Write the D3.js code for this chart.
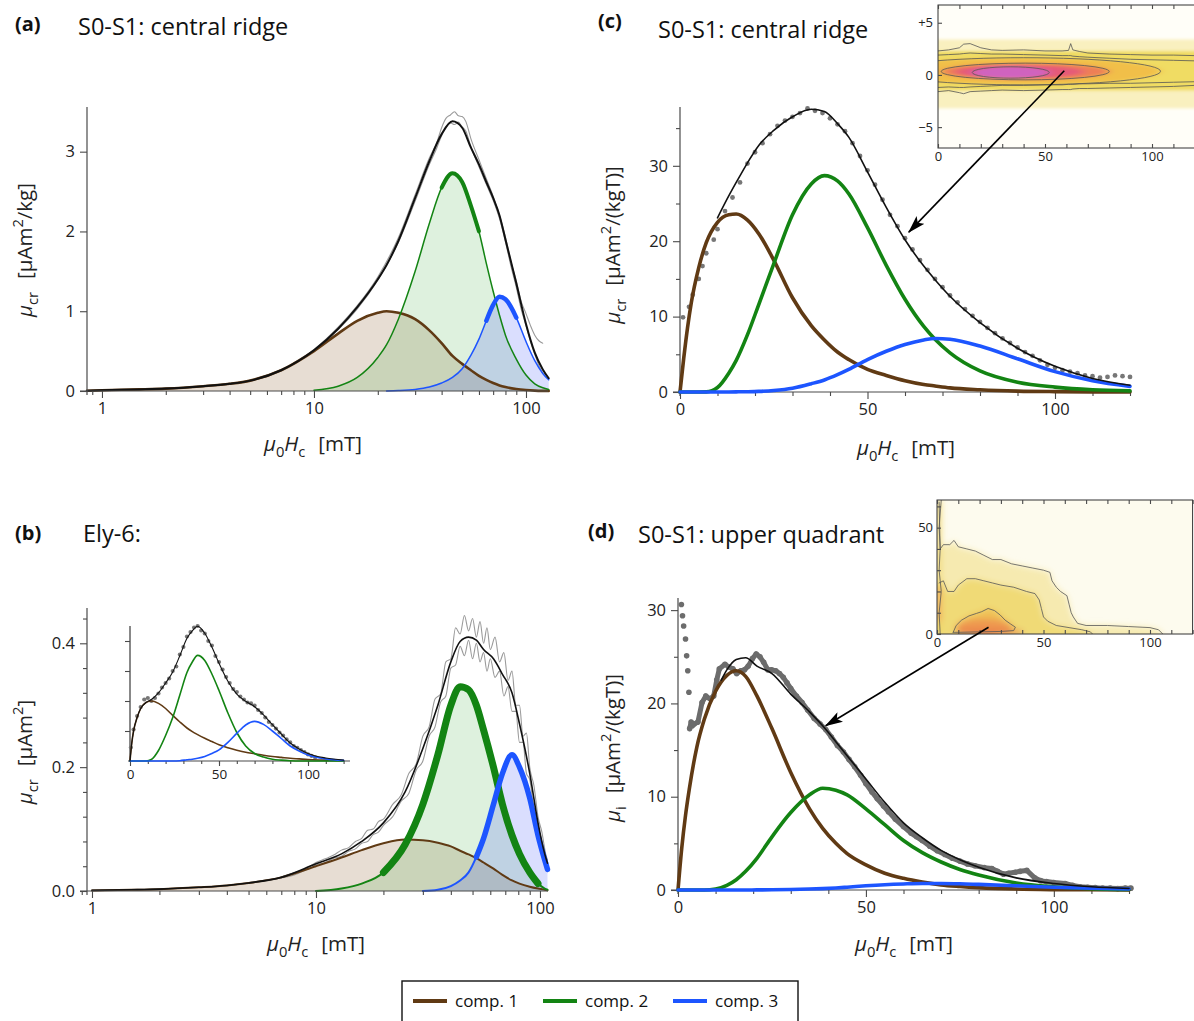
<!DOCTYPE html>
<html><head><meta charset="utf-8">
<script src="https://cdn.jsdelivr.net/npm/d3@7"></script>
<style>
body{margin:0;background:#fff;}
svg{display:block;font-family:"Open Sans",sans-serif;}
</style></head><body>
<svg id="chart" width="1194" height="1021"></svg>
<script>
// ================= DATA =================
// Panel (a): log field axis
const aH      = [0.85,1,1.5,2,3,4,5,7,10,13,16,20,22,25,30,35,40,45,50,55,60,65,70,75,80,90,100,110,120,128];
const aComp1  = [0.004,0.01,0.02,0.03,0.06,0.09,0.13,0.26,0.5,0.72,0.88,0.98,1.0,0.98,0.9,0.76,0.6,0.44,0.34,0.26,0.19,0.14,0.1,0.07,0.05,0.025,0.012,0.005,0.002,0.001];
const aComp2  = [0,0,0,0,0,0,0,0,0.01,0.06,0.17,0.42,0.58,0.9,1.5,2.1,2.55,2.73,2.62,2.32,2.0,1.6,1.25,0.95,0.7,0.4,0.2,0.09,0.04,0.02];
const aComp3  = [0,0,0,0,0,0,0,0,0,0,0,0,0,0.005,0.02,0.05,0.1,0.17,0.28,0.45,0.65,0.88,1.08,1.18,1.15,0.92,0.62,0.38,0.22,0.14];
const aTotal  = [0.004,0.01,0.02,0.03,0.06,0.09,0.13,0.26,0.51,0.78,1.05,1.4,1.58,1.88,2.42,2.88,3.22,3.38,3.3,3.05,2.84,2.62,2.42,2.2,1.9,1.35,0.84,0.48,0.27,0.16];
const aGrayH  = [8,10,13,16,20,25,30,35,38,40,42,44,46,48,50,52,55,60,65,70,75,80,85,90,95,100,105,110,115,120];
const aGray1  = [0.35,0.52,0.8,1.07,1.43,1.92,2.46,2.92,3.12,3.3,3.42,3.46,3.5,3.45,3.44,3.38,3.16,2.9,2.66,2.44,2.2,1.93,1.62,1.38,1.12,0.97,0.82,0.7,0.63,0.6];
const aGray2  = [0.34,0.5,0.77,1.03,1.39,1.86,2.38,2.84,3.05,3.2,3.3,3.36,3.34,3.37,3.31,3.26,3.06,2.81,2.59,2.39,2.16,1.87,1.56,1.3,1.02,0.82,0.62,0.46,0.32,0.22];
const aXTicks = [1,10,100];
const aYTicks = [0,1,2,3];

// Panel (b): log field axis
const bH      = [1,1.5,2,3,4,5,7,10,13,16,20,25,30,35,40,44,48,52,56,62,68,75,81,90,98,105,108];
const bComp1  = [0.001,0.002,0.003,0.006,0.009,0.013,0.022,0.04,0.054,0.066,0.077,0.083,0.082,0.078,0.072,0.065,0.059,0.053,0.046,0.036,0.026,0.017,0.012,0.007,0.004,0.002,0.001];
const bComp2  = [0,0,0,0,0,0,0,0,0.004,0.012,0.03,0.075,0.14,0.22,0.3,0.33,0.325,0.3,0.26,0.2,0.14,0.09,0.06,0.03,0.012,0.004,0.002];
const bComp3  = [0,0,0,0,0,0,0,0,0,0,0,0,0,0.002,0.008,0.017,0.03,0.055,0.085,0.14,0.19,0.22,0.2,0.15,0.09,0.05,0.035];
const bTotal  = [0.001,0.002,0.003,0.006,0.009,0.013,0.022,0.044,0.06,0.08,0.11,0.16,0.23,0.3,0.37,0.403,0.41,0.405,0.39,0.375,0.35,0.32,0.27,0.19,0.11,0.06,0.045];
const bGrayH  = [7,8,9,10,11,12,13,14,15,16,17,18,19,20,22,24,26,28,30,32,34,36,38,40,42,44,46,48,50,52,54,56,58,60,63,66,69,72,75,78,81,84,87,90,94,98,102,106,108];
const bGray1  = [0.023,0.03,0.036,0.046,0.052,0.058,0.066,0.07,0.08,0.085,0.098,0.1,0.112,0.116,0.14,0.155,0.19,0.205,0.25,0.265,0.31,0.318,0.37,0.375,0.425,0.415,0.445,0.42,0.44,0.41,0.435,0.4,0.425,0.39,0.41,0.37,0.385,0.34,0.355,0.3,0.3,0.25,0.255,0.2,0.17,0.12,0.095,0.06,0.05];
const bGray2  = [0.021,0.026,0.034,0.042,0.046,0.053,0.056,0.064,0.068,0.077,0.08,0.091,0.095,0.106,0.12,0.145,0.158,0.195,0.21,0.25,0.265,0.305,0.315,0.36,0.365,0.395,0.38,0.405,0.375,0.4,0.37,0.385,0.355,0.375,0.345,0.355,0.315,0.33,0.29,0.29,0.24,0.24,0.19,0.18,0.13,0.1,0.065,0.05,0.035];
const bXTicks = [1,10,100];
const bYTicks = [0,0.2,0.4];
// Panel (b) inset: linear field axis
const biH      = [0,1,2,4,6,9,12,16,20,24,28,32,35,38,42,46,50,55,60,65,70,75,80,85,90,95,100,110,120];
const biComp1  = [0,0.6,1.0,1.45,1.75,1.95,2.0,1.92,1.75,1.52,1.3,1.1,0.98,0.88,0.76,0.65,0.54,0.44,0.36,0.29,0.24,0.19,0.15,0.12,0.09,0.07,0.05,0.03,0.01];
const biComp2  = [0,0,0,0,0,0,0.05,0.35,0.85,1.45,2.2,2.95,3.3,3.52,3.35,2.9,2.35,1.6,0.95,0.5,0.25,0.13,0.06,0.03,0.01,0,0,0,0];
const biComp3  = [0,0,0,0,0,0,0,0,0,0,0.01,0.04,0.06,0.09,0.15,0.25,0.37,0.62,0.92,1.2,1.32,1.22,1.0,0.75,0.5,0.33,0.2,0.07,0.02];
const biTotal  = [0,0.6,1.0,1.45,1.75,1.95,2.05,2.27,2.6,2.97,3.51,4.09,4.34,4.49,4.26,3.8,3.26,2.66,2.23,1.99,1.81,1.54,1.21,0.9,0.6,0.4,0.25,0.1,0.03];
const biDotH   = [0.5,2,4,6,8,10,12,14,16,18,20,22,24,26,28,30,32,34,36,38,40,42,44,46,48,50,52,54,56,58,60,62,64,66,68,70,72,74,76,78,80,82,84,86,88,90,92,94,96,98,100,102,104];
const biDots   = [0.45,1.05,1.5,1.8,2.05,2.1,2.0,2.1,2.25,2.45,2.6,2.75,3.0,3.15,3.55,3.8,4.15,4.3,4.45,4.5,4.35,4.25,4.0,3.85,3.5,3.3,3.05,2.8,2.6,2.4,2.3,2.15,2.05,1.95,1.92,1.85,1.7,1.6,1.45,1.3,1.2,1.08,0.95,0.85,0.72,0.62,0.5,0.44,0.36,0.3,0.22,0.17,0.12];
const biXTicks = [0,50,100];
const biYTicks = [1,2,3,4];

// Panel (c): linear field axis
const cH      = [0,1,2,3,5,7,10,13,15,18,21,25,30,35,38.5,42,45,50,55,60,65,68,72,80,90,100,110,120];
const cComp1  = [0,4.5,8.5,11.8,16.5,19.8,22.5,23.5,23.6,22.8,21.0,17.5,12.5,8.8,6.9,5.3,4.3,3.0,2.2,1.5,1.0,0.8,0.55,0.3,0.12,0.05,0.02,0.01];
const cComp2  = [0,0,0,0,0,0.02,0.6,2.5,4.2,7.6,11.6,17,23.5,27.6,28.7,28.0,26.3,21.8,16.8,12.3,8.7,7.0,5.2,2.8,1.3,0.65,0.3,0.15];
const cComp3  = [0,0,0,0,0,0,0,0.01,0.02,0.04,0.08,0.2,0.5,1.1,1.6,2.3,3.0,4.3,5.4,6.3,6.9,7.1,7.0,6.1,4.4,2.7,1.5,0.75];
const cTotalH = [10,13,15,18,21,25,30,35,38.5,42,45,50,55,60,65,68,72,80,90,100,110,120];
const cTotal  = [23.1,26.0,27.8,30.4,32.7,34.7,36.5,37.5,37.2,35.6,33.8,29.2,24.5,20.2,16.7,14.9,12.7,9.2,5.8,3.4,1.8,0.9];
const cDotH   = [0.8,2.4,3.4,5,6,7,9,10,12,14,16,18,20,22,24,26,28,30,32,34,36,38,40,42,44,46,48,50,52,54,56,58,60,62,64,66,68,70,72,74,76,78,80,82,84,86,88,90,92,94,96,98,100,102,104,106,108,110,112,114,116,118,120];
const cDots   = [9.9,11.3,12.9,15.0,16.7,18.4,20.2,21.6,24.0,25.8,27.8,30.3,31.8,33.0,34.2,35.3,36.0,36.5,37.0,37.6,37.3,37.0,36.3,35.5,34.6,33.0,31.3,29.4,27.5,25.5,23.5,22.0,20.4,18.9,17.5,16.2,15.0,13.9,12.8,11.9,11.0,10.1,9.3,8.5,7.8,7.1,6.5,5.9,5.3,4.8,4.2,3.6,3.2,2.9,2.7,2.5,2.2,2.1,1.9,2.0,2.2,2.1,2.0];
const cXTicks = [0,50,100];
const cYTicks = [0,10,20,30];
// Panel (c) inset: central-ridge FORC density levels (Hc extent, Hu extent)
const ciLevelH = [[-5,125],[-5,125],[-24,104],[1.5,80],[8,68],[16,52]];
const ciLevelV = [[-3.2,3.4],[-1.5,2.3],[-0.95,1.65],[-0.47,1.13],[-0.3,0.92],[-0.31,0.78]];
const ciContH  = [0,5,10,12,15,20,25,30,40,50,58,61,62,63,66,70,80,90,100,110,120];
const ciUp1    = [2.3,2.4,2.6,2.95,3.0,2.6,2.4,2.35,2.4,2.3,2.3,2.35,3.0,2.4,2.25,2.1,2.0,1.95,1.9,1.9,1.85];
const ciUp2    = [1.9,1.95,2.0,2.05,2.1,2.05,2.0,2.0,1.95,1.9,1.85,1.85,1.85,1.8,1.75,1.7,1.6,1.5,1.45,1.4,1.35];
const ciLo1    = [-1.6,-1.5,-1.7,-1.8,-1.6,-1.55,-1.5,-1.45,-1.5,-1.45,-1.4,-1.4,-1.4,-1.35,-1.3,-1.3,-1.25,-1.2,-1.15,-1.1,-1.0];
const ciLo2    = [-1.2,-1.15,-1.2,-1.2,-1.15,-1.1,-1.05,-1.0,-1.0,-0.95,-0.95,-0.9,-0.9,-0.9,-0.85,-0.85,-0.8,-0.8,-0.75,-0.7,-0.65];
const ciXTicks = [0,50,100];
const ciYTicks = [-5,0,5];

// Panel (d): linear field axis
const dH      = [0,1,2,3,5,7,10,13,15.5,18,21,25,30,35,38.5,42,45,50,55,60,65,70,75,80,90,100,110,120];
const dComp1  = [0,4.5,8,10.8,15.3,18.3,21.3,23.0,23.5,22.9,20.8,17.3,12.6,8.7,6.6,5.0,3.9,2.7,1.8,1.25,0.85,0.55,0.38,0.25,0.1,0.04,0.02,0.01];
const dComp2  = [0,0,0,0,0,0,0.1,0.5,1.1,2.0,3.4,5.7,8.3,10.2,10.9,10.7,10.2,8.7,7.0,5.3,4.0,3.0,2.2,1.6,0.75,0.35,0.15,0.05];
const dComp3  = [0,0,0,0,0,0,0,0,0,0,0.01,0.02,0.05,0.1,0.15,0.22,0.3,0.45,0.57,0.65,0.7,0.7,0.67,0.6,0.45,0.3,0.18,0.1];
const dTotalH = [11.5,13,15.5,18,21,25,30,35,38.5,42,45,50,55,60,65,70,75,80,90,100,110,120];
const dTotal  = [22.5,23.6,24.7,24.9,24.0,23.2,21.0,19.1,17.6,15.9,14.4,11.9,9.4,7.2,5.6,4.25,3.25,2.45,1.3,0.7,0.35,0.16];
const dDotH   = [0.9,1.2,1.5,2.0,2.3,2.6,2.9,3.1,3.5,3.8,4.3,5.3,6.4,7.4,8.5,9.5,10.3,11,12.5,13.5,14.6,15.6,16.7,17.7,18.7,19.8,20.8,21.8,22.8,23.9,24.9,26,27,28,29,30,31.5,33,34.5,36.2,37.8,39.3,40.8,42.4,44,45.5,47,48.6,50,51.6,53,54.7,56,57.8,60,62,63.5,65,67,69,71,73,75,77,79,81.5,83.5,85,86.6,88,89.7,91,92.8,94.9,96.5,98,100,103,105,107,109,111,113,115,117,119,120.5];
const dDots   = [30.6,29.4,28.3,26.9,25.1,23.5,21.2,17.3,18.0,17.6,17.8,18.0,20.1,20.8,20.5,20.8,22.5,23.7,24.2,23.9,23.7,23.2,23.5,23.6,24.0,24.8,25.3,25.0,24.4,23.6,23.6,23.5,23.2,22.8,22.2,21.6,20.8,20.1,19.3,18.4,17.8,17.2,16.4,15.5,14.8,14.0,13.2,12.3,11.4,10.5,9.8,9.0,8.4,7.6,6.8,6.1,5.7,5.3,4.7,4.2,3.8,3.4,3.1,2.8,2.6,2.4,2.3,2.0,1.7,1.8,1.9,2.0,2.1,1.3,1.0,0.9,0.8,0.7,0.5,0.35,0.3,0.25,0.2,0.2,0.15,0.2,0.2];
const dXTicks = [0,50,100];
const dYTicks = [0,10,20,30];
// Panel (d) inset: upper-quadrant FORC density contours (Hc, Hu)
const diOuterH = [1,1.5,3,6,8,10,14,18,22,26,30,35,40,45,50,53,54,56,58,61,62,63,64,66,70,80,90,100,104,106];
const diOuterV = [62,40,42,42,44,41,40,39,37,35,35,33,32,31,30,29,25,22,20,18,14,10,8,5,4,4,3.5,3,2,0];
const diMidH   = [1,3,5,8,10,14,18,22,26,30,36,42,46,48,49,50,52,56,62,68,72,73];
const diMidV   = [24,25,20,20,23,26,26,25,24,23,22,20,19,16,12,8,6,4,3,2,1,0];
const diInnerH = [7.6,9,11.5,15,18.6,21,24,27,29.7,32,34.4,36.8,36,30,20,10,7.6];
const diInnerV = [0.8,4,6.5,8.5,9.7,10.5,12,11,8.9,6.5,4.8,3.2,1.6,1.2,1,0.8,0.8];
const diLeftH  = [1.5,1,2,1,1.5,1,2];
const diLeftV  = [0,10,20,30,40,50,63];
const diXTicks = [0,50,100];
const diYTicks = [0,50];

const legendLabels = ["comp. 1","comp. 2","comp. 3"];

// ================= STYLE =================
const COL = ["#603a14","#138413","#1d55ff"];
const FILL = ["rgba(140,95,45,0.21)","rgba(60,170,60,0.17)","rgba(60,80,250,0.19)"];
const AX = "#4a4a4a";
const FONT = "'Open Sans', sans-serif";
const TICK_FS = 16.5, LABEL_FS = 20.5;
const svg = d3.select("#chart");
const defs = svg.append("defs");
const zip = (xs, ys) => xs.map((v,i)=>[v, ys[i]]);
const range = (a,b,s) => d3.range(a, b+1e-9, s);

defs.append("marker").attr("id","arrow").attr("viewBox","0 0 18 11").attr("refX",17).attr("refY",5.5)
  .attr("markerWidth",18).attr("markerHeight",11).attr("markerUnits","userSpaceOnUse").attr("orient","auto")
  .append("path").attr("d","M0,0 L18,5.5 L0,11 L4,5.5 Z").attr("fill","#000");
defs.append("filter").attr("id","blurC").attr("x","-20%").attr("y","-50%").attr("width","140%").attr("height","200%")
  .append("feGaussianBlur").attr("stdDeviation","5 1.6");
defs.append("filter").attr("id","blurD").attr("x","-20%").attr("y","-20%").attr("width","140%").attr("height","140%")
  .append("feGaussianBlur").attr("stdDeviation","3");

function styleAxis(g, fs){
  g.select(".domain").remove();
  g.selectAll(".tick line").attr("stroke", AX).attr("stroke-width",1.1);
  g.selectAll(".tick text").attr("fill","#222").attr("font-size",fs).attr("font-family",FONT);
}
function richText(parent, x, y, parts, o){
  const t = parent.append("text").attr("x",x).attr("y",y).attr("font-size",o.size)
    .attr("text-anchor",o.anchor||"middle").attr("fill","#222").attr("font-family",FONT);
  if (o.rotate) t.attr("transform",`rotate(-90 ${x} ${y})`);
  let shift = 0;
  parts.forEach(p=>{
    const s = t.append("tspan").text(p.t);
    const target = p.sub ? 0.28*o.size : p.sup ? -0.42*o.size : 0;
    s.attr("dy", target-shift); shift = target;
    if (p.sub||p.sup) s.attr("font-size", o.size*0.72);
    if (p.it) s.attr("font-style","italic");
    if (p.dx) s.attr("dx",p.dx);
  });
  return t;
}
function mainAxes(g, x, y, o){
  const yb = y.range()[0], x0 = x.range()[0];
  g.append("line").attr("x1",x0-7).attr("x2",x.range()[1]).attr("y1",yb).attr("y2",yb).attr("stroke",AX).attr("stroke-width",1.2);
  g.append("line").attr("x1",x0).attr("x2",x0).attr("y1",y.range()[1]).attr("y2",yb+4).attr("stroke",AX).attr("stroke-width",1.2);
  styleAxis(g.append("g").attr("transform",`translate(0,${yb})`).call(d3.axisBottom(x).tickValues(o.xMajor).tickFormat(o.xFmt).tickSize(7).tickPadding(4)),TICK_FS);
  styleAxis(g.append("g").attr("transform",`translate(0,${yb})`).call(d3.axisBottom(x).tickValues(o.xMinor).tickFormat("").tickSize(4)),TICK_FS);
  styleAxis(g.append("g").attr("transform",`translate(${x0},0)`).call(d3.axisLeft(y).tickValues(o.yMajor).tickFormat(o.yFmt).tickSize(7).tickPadding(5)),TICK_FS);
  if (o.yMinor) styleAxis(g.append("g").attr("transform",`translate(${x0},0)`).call(d3.axisLeft(y).tickValues(o.yMinor).tickFormat("").tickSize(4)),TICK_FS);
}
function lineG(x,y){ return d3.line().x(d=>x(d[0])).y(d=>y(d[1])).curve(d3.curveMonotoneX); }
function areaG(x,y){ return d3.area().x(d=>x(d[0])).y0(y(0)).y1(d=>y(d[1])).curve(d3.curveMonotoneX); }
function path(g, d, stroke, w, fill){ return g.append("path").attr("d",d).attr("fill",fill||"none").attr("stroke",stroke||"none").attr("stroke-width",w||0).attr("stroke-linejoin","round").attr("stroke-linecap","round"); }

const X_LABEL = [{t:"μ",it:true},{t:"0",sub:true},{t:"H",it:true},{t:"c",sub:true},{t:"[mT]",dx:13}];
function yLabel(sub, unitTail){ return [{t:"μ",it:true},{t:sub,sub:true},{t:"[μAm",dx:13},{t:"2",sup:true},{t:unitTail}]; }
function title(letter, txt, lx, ly, tx, ty){
  svg.append("text").attr("x",lx).attr("y",ly).attr("font-size",20).attr("font-weight","bold").attr("fill","#111").attr("font-family",FONT).text(letter);
  svg.append("text").attr("x",tx).attr("y",ty).attr("font-size",23.5).attr("fill","#111").attr("font-family",FONT).text(txt);
}
const logMinor = [0.9,2,3,4,5,6,7,8,9,20,30,40,50,60,70,80,90];

// ================= PANEL (a) =================
{
  const x = d3.scaleLog().domain([0.85,127]).range([87,548]);
  const y = d3.scaleLinear().domain([0,3.56]).range([391,107]);
  const g = svg.append("g");
  const L = lineG(x,y), A = areaG(x,y);
  const c1 = zip(aH,aComp1), c2 = zip(aH,aComp2), c3 = zip(aH,aComp3);
  path(g, A(c1), null, 0, FILL[0]);
  path(g, A(c2), null, 0, FILL[1]);
  path(g, A(c3), null, 0, FILL[2]);
  path(g, L(zip(aGrayH,aGray1)), "#9a9a9a", 1.1);
  path(g, L(zip(aGrayH,aGray2)), "#9a9a9a", 1.1);
  path(g, L(c1), COL[0], 2.6);
  path(g, L(c2.filter(d=>d[0]>=8)), COL[1], 1.5);
  path(g, L(c2.filter(d=>d[0]>=38&&d[0]<=60)), COL[1], 4);
  path(g, L(c3.filter(d=>d[0]>=22)), COL[2], 1.5);
  path(g, L(c3.filter(d=>d[0]>=62&&d[0]<=90)), COL[2], 4.5);
  path(g, L(zip(aH,aTotal)), "#111", 2);
  mainAxes(g, x, y, {xMajor:aXTicks, xFmt:d3.format("d"), xMinor:logMinor, yMajor:aYTicks, yFmt:d3.format("d")});
  richText(g, 313, 451, X_LABEL, {size:LABEL_FS});
  richText(g, 32, 250, yLabel("cr","/kg]"), {size:LABEL_FS, rotate:true});
  title("(a)", "S0-S1: central ridge", 15, 31, 78, 35);
}

// ================= PANEL (b) =================
{
  const x = d3.scaleLog().domain([0.95,108.6]).range([87,548]);
  const y = d3.scaleLinear().domain([0,0.457]).range([891,608]);
  const g = svg.append("g");
  const L = lineG(x,y), A = areaG(x,y);
  const c1 = zip(bH,bComp1), c2 = zip(bH,bComp2), c3 = zip(bH,bComp3);
  path(g, A(c1), null, 0, FILL[0]);
  path(g, A(c2), null, 0, FILL[1]);
  path(g, A(c3), null, 0, FILL[2]);
  path(g, L(zip(bGrayH,bGray1)), "#9a9a9a", 1.1);
  path(g, L(zip(bGrayH,bGray2)), "#9a9a9a", 1.1);
  path(g, L(c1), COL[0], 2);
  path(g, L(c2.filter(d=>d[0]>=10)), COL[1], 2);
  path(g, L(c2.filter(d=>d[0]>=20&&d[0]<=98)), COL[1], 7);
  path(g, L(c3.filter(d=>d[0]>=30)), COL[2], 2);
  path(g, L(c3.filter(d=>d[0]>=50)), COL[2], 5.5);
  path(g, L(zip(bH,bTotal)), "#111", 1.6);
  mainAxes(g, x, y, {xMajor:bXTicks, xFmt:d3.format("d"), xMinor:logMinor, yMajor:bYTicks, yFmt:d3.format(".1f"), yMinor:[0.04,0.08,0.12,0.16,0.24,0.28,0.32,0.36,0.44]});
  richText(g, 316, 951, X_LABEL, {size:LABEL_FS});
  richText(g, 32, 752, yLabel("cr","]"), {size:LABEL_FS, rotate:true});
  title("(b)", "Ely-6:", 15, 540, 83, 542);

  // inset
  const ix = d3.scaleLinear().domain([0,120]).range([130,343.6]);
  const iy = d3.scaleLinear().domain([0,4.5]).range([761,626]);
  const gi = svg.append("g");
  const Li = lineG(ix,iy);
  gi.append("line").attr("x1",ix(0)-2).attr("x2",ix(0)+220).attr("y1",iy(0)).attr("y2",iy(0)).attr("stroke",AX).attr("stroke-width",1.2);
  gi.append("line").attr("x1",ix(0)).attr("x2",ix(0)).attr("y1",iy(4.5)).attr("y2",iy(0)).attr("stroke","#888").attr("stroke-width",2);
  styleAxis(gi.append("g").attr("transform",`translate(0,${iy(0)})`).call(d3.axisBottom(ix).tickValues(biXTicks).tickSize(5).tickPadding(3)),13.5);
  styleAxis(gi.append("g").attr("transform",`translate(0,${iy(0)})`).call(d3.axisBottom(ix).tickValues(range(10,120,10)).tickFormat("").tickSize(3)),13.5);
  styleAxis(gi.append("g").attr("transform",`translate(${ix(0)},0)`).call(d3.axisLeft(iy).tickValues(biYTicks).tickFormat("").tickSize(5)),13.5);
  gi.selectAll("circle.bd").data(zip(biDotH,biDots)).join("circle").attr("cx",d=>ix(d[0])).attr("cy",d=>iy(d[1])).attr("r",2.1).attr("fill","#777");
  path(gi, Li(zip(biH,biComp1)), COL[0], 1.6);
  path(gi, Li(zip(biH,biComp2)), COL[1], 1.6);
  path(gi, Li(zip(biH,biComp3)), COL[2], 1.6);
  path(gi, Li(zip(biH,biTotal)), "#111", 1.1);
}

// ================= PANEL (c) =================
{
  const x = d3.scaleLinear().domain([0,120]).range([680,1130]);
  const y = d3.scaleLinear().domain([0,37.8]).range([392,107]);
  const g = svg.append("g");
  const L = lineG(x,y);
  mainAxes(g, x, y, {xMajor:cXTicks, xFmt:d3.format("d"), xMinor:[10,20,30,40,60,70,80,90,110,120], yMajor:cYTicks, yFmt:d3.format("d"), yMinor:[5,15,25,35]});
  g.selectAll("circle.cd").data(zip(cDotH,cDots)).join("circle").attr("cx",d=>x(d[0])).attr("cy",d=>y(d[1])).attr("r",2.4).attr("fill","#777");
  path(g, L(zip(cH,cComp1)), COL[0], 3.6);
  path(g, L(zip(cH,cComp2)), COL[1], 3.6);
  path(g, L(zip(cH,cComp3)), COL[2], 3.6);
  path(g, L(zip(cTotalH,cTotal)), "#111", 1.6);
  richText(g, 906, 455, X_LABEL, {size:LABEL_FS});
  richText(g, 620, 245, yLabel("cr","/(kgT)]"), {size:LABEL_FS, rotate:true});
  title("(c)", "S0-S1: central ridge", 598, 28, 658, 38);

  // inset FORC (central ridge)
  const ix = d3.scaleLinear().domain([0,120]).range([938,1194.8]);
  const iy = d3.scaleLinear().domain([-7,6.7]).range([148,5]);
  defs.append("clipPath").attr("id","clipC").append("rect").attr("x",ix(0)).attr("y",iy(6.7)).attr("width",ix(120)-ix(0)).attr("height",iy(-7)-iy(6.7));
  const gi = svg.append("g");
  const gh = gi.append("g").attr("clip-path","url(#clipC)");
  gh.append("rect").attr("x",ix(0)).attr("y",iy(6.7)).attr("width",ix(120)-ix(0)).attr("height",iy(-7)-iy(6.7)).attr("fill","#fffef8");
  const gb = gh.append("g").attr("filter","url(#blurC)");
  const lvlCol = ["#f9f0bf","#f0dc64","#f1bf4a","#ee7f56","#e55a78","#d064bf"];
  ciLevelH.forEach((hx,i)=>{
    const hy = ciLevelV[i];
    if (i<2) gb.append("rect").attr("x",ix(hx[0])).attr("y",iy(hy[1])).attr("width",ix(hx[1])-ix(hx[0])).attr("height",iy(hy[0])-iy(hy[1])).attr("fill",lvlCol[i]);
    else gb.append("ellipse").attr("cx",(ix(hx[0])+ix(hx[1]))/2).attr("cy",(iy(hy[0])+iy(hy[1]))/2)
      .attr("rx",(ix(hx[1])-ix(hx[0]))/2).attr("ry",(iy(hy[0])-iy(hy[1]))/2).attr("fill",lvlCol[i]);
  });
  [2,3,5].forEach(i=>{
    const hx = ciLevelH[i], hy = ciLevelV[i];
    gh.append("ellipse").attr("cx",(ix(hx[0])+ix(hx[1]))/2).attr("cy",(iy(hy[0])+iy(hy[1]))/2)
      .attr("rx",(ix(hx[1])-ix(hx[0]))/2).attr("ry",(iy(hy[0])-iy(hy[1]))/2).attr("fill","none").attr("stroke","#555").attr("stroke-width",0.8);
  });
  const Lc = d3.line().x(d=>ix(d[0])).y(d=>iy(d[1]));
  [ciUp1,ciUp2,ciLo1,ciLo2].forEach(v=> path(gh, Lc(zip(ciContH,v)), "#555", 0.8));
  gi.append("rect").attr("x",ix(0)).attr("y",iy(6.7)).attr("width",ix(120)-ix(0)).attr("height",iy(-7)-iy(6.7)).attr("fill","none").attr("stroke","#333").attr("stroke-width",1);
  const fmtC = d => d>0 ? "+"+d : d<0 ? "\u2212"+(-d) : "0";
  styleAxis(gi.append("g").attr("transform",`translate(0,${iy(-7)})`).call(d3.axisBottom(ix).tickValues(range(0,120,10)).tickFormat(d=>ciXTicks.includes(d)?d:"").tickSize(-4).tickPadding(4)),13);
  styleAxis(gi.append("g").attr("transform",`translate(0,${iy(6.7)})`).call(d3.axisTop(ix).tickValues(range(0,120,10)).tickFormat("").tickSize(-4)),13);
  styleAxis(gi.append("g").attr("transform",`translate(${ix(0)},0)`).call(d3.axisLeft(iy).tickValues(ciYTicks).tickFormat(fmtC).tickSize(-4).tickPadding(5)),13);
  svg.append("line").attr("x1",ix(59)).attr("y1",iy(0.4)).attr("x2",x(61)).attr("y2",y(21.2)).attr("stroke","#000").attr("stroke-width",1.6).attr("marker-end","url(#arrow)");
}

// ================= PANEL (d) =================
{
  const x = d3.scaleLinear().domain([0,120]).range([678,1129]);
  const y = d3.scaleLinear().domain([0,31.3]).range([890,598]);
  const g = svg.append("g");
  const L = lineG(x,y);
  mainAxes(g, x, y, {xMajor:dXTicks, xFmt:d3.format("d"), xMinor:[10,20,30,40,60,70,80,90,110,120], yMajor:dYTicks, yFmt:d3.format("d"), yMinor:[5,15,25]});
  const dots = zip(dDotH,dDots);
  path(g, d3.line().x(d=>x(d[0])).y(d=>y(d[1]))(dots.filter(d=>d[0]>=3.1)), "#6c6c6c", 5);
  g.selectAll("circle.dd").data(dots).join("circle").attr("cx",d=>x(d[0])).attr("cy",d=>y(d[1])).attr("r",2.8).attr("fill","#6c6c6c");
  path(g, L(zip(dH,dComp1)), COL[0], 3.6);
  path(g, L(zip(dH,dComp2)), COL[1], 3.6);
  path(g, L(zip(dH,dComp3)), COL[2], 3.6);
  path(g, L(zip(dTotalH,dTotal)), "#111", 1.6);
  richText(g, 904, 951, X_LABEL, {size:LABEL_FS});
  richText(g, 620, 748, yLabel("i","/(kgT)]"), {size:LABEL_FS, rotate:true});
  title("(d)", "S0-S1: upper quadrant", 588, 538, 638, 543);

  // inset FORC (upper quadrant)
  const ix = d3.scaleLinear().domain([0,120]).range([937,1192.6]);
  const iy = d3.scaleLinear().domain([0,63]).range([634,500]);
  defs.append("clipPath").attr("id","clipD").append("rect").attr("x",ix(0)).attr("y",iy(63)).attr("width",ix(120)-ix(0)).attr("height",iy(0)-iy(63));
  const gi = svg.append("g");
  const gh = gi.append("g").attr("clip-path","url(#clipD)");
  gh.append("rect").attr("x",ix(0)).attr("y",iy(63)).attr("width",ix(120)-ix(0)).attr("height",iy(0)-iy(63)).attr("fill","#fdfbee");
  const gb = gh.append("g").attr("filter","url(#blurD)");
  const Lp = d3.line().x(d=>ix(d[0])).y(d=>iy(d[1]));
  const closeDown = (pts)=> pts.concat([[pts[pts.length-1][0],-2],[-2,-2],[-2,pts[0][1]]]);
  gb.append("path").attr("d",Lp(closeDown(zip(diOuterH,diOuterV)))+"Z").attr("fill","#f6eab0");
  gb.append("path").attr("d",Lp(closeDown(zip(diMidH,diMidV)))+"Z").attr("fill","#f0da76");
  gb.append("path").attr("d",Lp(zip(diInnerH,diInnerV))+"Z").attr("fill","#efbf55");
  gb.append("ellipse").attr("cx",ix(22)).attr("cy",iy(3)).attr("rx",ix(13)-ix(0)).attr("ry",iy(0)-iy(4)).attr("fill","#ee9650");
  gb.append("rect").attr("x",ix(10)).attr("y",iy(1.3)).attr("width",ix(30)-ix(0)).attr("height",iy(0)-iy(1.3)).attr("fill","#e2503c");
  gb.append("rect").attr("x",ix(0)).attr("y",iy(63)).attr("width",ix(1.8)-ix(0)).attr("height",iy(0)-iy(63)).attr("fill","#f0d460");
  gb.append("rect").attr("x",ix(0)).attr("y",iy(22)).attr("width",ix(1.6)-ix(0)).attr("height",iy(6)-iy(22)).attr("fill","#ef8a4a");
  path(gh, Lp(zip(diOuterH,diOuterV)), "#555", 0.8);
  path(gh, Lp(zip(diMidH,diMidV)), "#555", 0.8);
  path(gh, Lp(zip(diInnerH,diInnerV)), "#555", 0.8);
  path(gh, Lp(zip(diLeftH,diLeftV)), "#555", 0.8);
  gi.append("rect").attr("x",ix(0)).attr("y",iy(63)).attr("width",ix(120)-ix(0)).attr("height",iy(0)-iy(63)).attr("fill","none").attr("stroke","#333").attr("stroke-width",1);
  styleAxis(gi.append("g").attr("transform",`translate(0,${iy(0)})`).call(d3.axisBottom(ix).tickValues(range(0,120,10)).tickFormat(d=>diXTicks.includes(d)?d:"").tickSize(-4).tickPadding(4)),13);
  styleAxis(gi.append("g").attr("transform",`translate(0,${iy(63)})`).call(d3.axisTop(ix).tickValues(range(0,120,10)).tickFormat("").tickSize(-4)),13);
  styleAxis(gi.append("g").attr("transform",`translate(${ix(0)},0)`).call(d3.axisLeft(iy).tickValues(range(0,60,10)).tickFormat(d=>diYTicks.includes(d)?d:"").tickSize(-4).tickPadding(4)),13);
  svg.append("line").attr("x1",ix(24.2)).attr("y1",iy(3.2)).attr("x2",x(39.3)).attr("y2",y(17.6)).attr("stroke","#000").attr("stroke-width",1.6).attr("marker-end","url(#arrow)");
}

// ================= LEGEND =================
{
  const lg = svg.append("g");
  lg.append("rect").attr("x",402).attr("y",981).attr("width",396).attr("height",60).attr("fill","#fff").attr("stroke","#111").attr("stroke-width",1.4);
  const lx = d3.scalePoint().domain(legendLabels).range([413,673]);
  legendLabels.forEach((lab,i)=>{
    lg.append("line").attr("x1",lx(lab)).attr("x2",lx(lab)+34).attr("y1",1001).attr("y2",1001).attr("stroke",COL[i]).attr("stroke-width",4);
    lg.append("text").attr("x",lx(lab)+42).attr("y",1007).attr("font-size",17).attr("fill","#111").attr("font-family",FONT).text(lab);
  });
}
</script></body></html>
